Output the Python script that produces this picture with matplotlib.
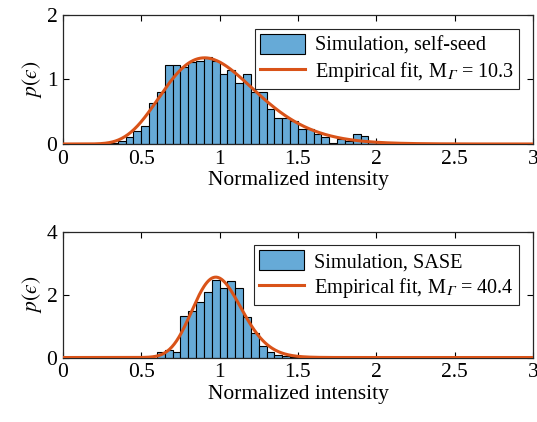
import math
import numpy as np
import matplotlib.pyplot as plt

plt.rcParams['font.family'] = ['Liberation Serif', 'DejaVu Serif']
plt.rcParams['mathtext.fontset'] = 'stix'

bin_width = 0.05

# self-seed histogram (normalized pdf), left bin edges and heights
ss_edges = [0.30, 0.35, 0.40, 0.45, 0.50, 0.55, 0.60, 0.65, 0.70, 0.75,
            0.80, 0.85, 0.90, 0.95, 1.00, 1.05, 1.10, 1.15, 1.20, 1.25,
            1.30, 1.35, 1.40, 1.45, 1.50, 1.55, 1.60, 1.65, 1.70, 1.75,
            1.80, 1.85, 1.90, 1.95, 2.00, 2.05, 2.10]
ss_pdf = [0.01, 0.04, 0.11, 0.20, 0.28, 0.64, 0.80, 1.23, 1.23, 1.19,
          1.27, 1.28, 1.35, 1.28, 1.08, 1.15, 0.95, 1.08, 0.81, 0.80,
          0.55, 0.40, 0.40, 0.35, 0.24, 0.23, 0.15, 0.11, 0.02, 0.07,
          0.04, 0.16, 0.12, 0.025, 0.03, 0.02, 0.02]
ss_M = 10.3

# SASE histogram
sase_edges = [0.60, 0.65, 0.70, 0.75, 0.80, 0.85, 0.90, 0.95, 1.00,
              1.05, 1.10, 1.15, 1.20, 1.25, 1.30, 1.35, 1.40, 1.45]
sase_pdf = [0.16, 0.24, 0.16, 1.33, 1.48, 1.76, 2.10, 2.47, 2.23,
            2.45, 2.23, 1.28, 0.79, 0.36, 0.18, 0.08, 0.04, 0.02]
sase_M = 40.4

bar_color = '#66aad7'
fit_color = '#d95319'


def gamma_pdf(x, M):
    out = np.zeros_like(x)
    pos = x > 0
    xp = x[pos]
    out[pos] = np.exp(M * math.log(M) + (M - 1) * np.log(xp) - M * xp - math.lgamma(M))
    return out


def panel(ax, edges, pdf, M, label, ymax, yticks, leg_top):
    bars = ax.bar(edges, pdf, width=bin_width, align='edge', color=bar_color,
                  edgecolor='black', linewidth=0.8, zorder=2)
    x = np.linspace(0, 3, 601)
    line, = ax.plot(x, gamma_pdf(x, M), color=fit_color, lw=2.2, zorder=3)
    ax.set_xlim(0, 3)
    ax.set_ylim(0, ymax)
    ax.set_xticks([0, 0.5, 1, 1.5, 2, 2.5, 3])
    ax.set_xticklabels(['0', '0.5', '1', '1.5', '2', '2.5', '3'])
    ax.set_yticks(yticks)
    ax.tick_params(direction='in', top=True, right=True, length=4,
                   labelsize=15.5, width=0.8, pad=4)
    for s in ax.spines.values():
        s.set_linewidth(0.9)
        s.set_color('#262626')
    ax.set_xlabel('Normalized intensity', fontsize=15.5, labelpad=2)
    ax.set_ylabel('$p(\u03f5)$', fontsize=15.5, labelpad=2)
    fit_label = 'Empirical fit, M$_{\U0001D6E4}$ = %.1f' % M
    leg = ax.legend([bars, line], [label, fit_label],
                    loc='upper right', bbox_to_anchor=(0.970, leg_top),
                    borderaxespad=0, fontsize=14.6, fancybox=False,
                    handlelength=2.2, handleheight=1.15, handletextpad=0.5,
                    borderpad=0.25, labelspacing=0.2, framealpha=1)
    leg.get_frame().set_edgecolor('#262626')
    leg.get_frame().set_linewidth(0.8)


fig = plt.figure(figsize=(5.37, 4.22), dpi=100)
ax1 = fig.add_axes([0.1173, 0.6588, 0.8752, 0.3057])
ax2 = fig.add_axes([0.1173, 0.1528, 0.8752, 0.2974])

panel(ax1, ss_edges, ss_pdf, ss_M, 'Simulation, self-seed', 2, [0, 1, 2], 0.891)
panel(ax2, sase_edges, sase_pdf, sase_M, 'Simulation, SASE', 4, [0, 2, 4], 0.896)

fig.savefig('out.png', dpi=100)
